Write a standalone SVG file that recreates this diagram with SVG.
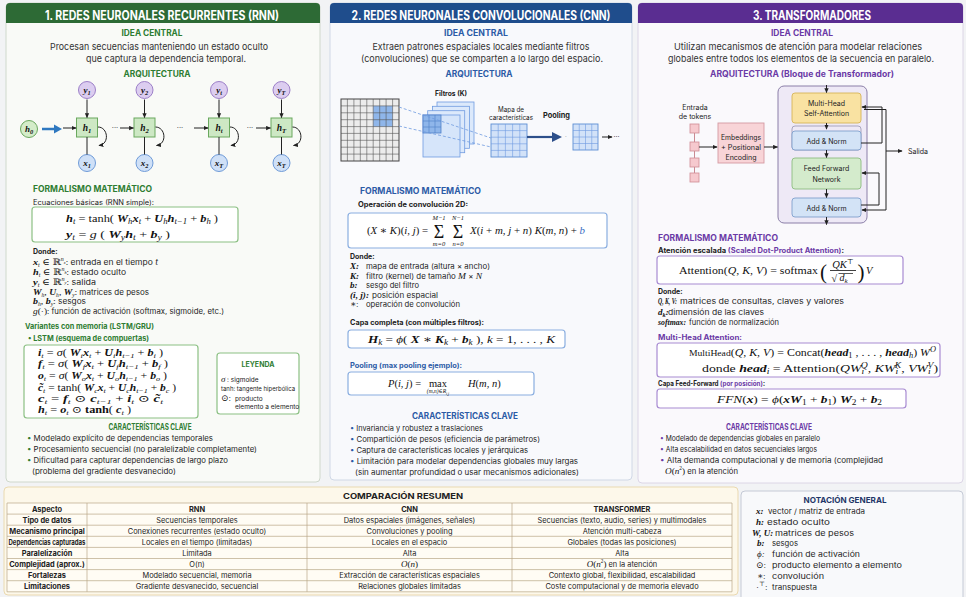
<svg xmlns="http://www.w3.org/2000/svg" width="966" height="597" viewBox="0 0 966 597">
<defs>
<style>
text{font-family:Inter,"Noto Sans","Liberation Sans",sans-serif;fill:#222}
.hd{font-size:12.5px;font-weight:700;fill:#fff;text-anchor:middle}
.sec{font-size:8.5px;font-weight:700}
.c{text-anchor:middle}
.g{fill:#2e7d32}.bl{fill:#2c5ba6}.pu{fill:#6b3aa6}.nv{fill:#1f3768}
.lead{font-size:9.5px;fill:#333;text-anchor:middle}
.t{font-size:7.5px}
.sm{font-size:7px}
.xs{font-size:6.5px}
.tb{font-size:7.5px;font-weight:700}
.m{font-family:"Liberation Serif","DejaVu Serif",serif;font-size:10.5px;fill:#111}
.mi{font-family:"Liberation Serif","DejaVu Serif",serif;font-size:9px;fill:#111}
.i{font-style:italic}
.bi{font-style:italic;font-weight:700}
.up{font-style:normal;font-weight:400}
.s{font-size:70%;baseline-shift:-2.3px}
.p{font-size:70%;baseline-shift:3.6px}
.ln{fill:none;stroke:#222;stroke-width:1}
.ar{fill:none;stroke:#222;stroke-width:1;marker-end:url(#ah)}
.gbox{fill:#fff;stroke:#8cc084;stroke-width:1.2}
.bbox{fill:#fff;stroke:#8aaee0;stroke-width:1.2}
.pbox{fill:#fff;stroke:#a88bd2;stroke-width:1.2}
.ycirc{fill:#dccdf0;stroke:#9d80c8;stroke-width:1}
.xcirc{fill:#cfe0f7;stroke:#6f9bd8;stroke-width:1}
.hbox{fill:#cde8c4;stroke:#6aa85e;stroke-width:1}
.tk{fill:#f6c9ce;stroke:#cf8c95;stroke-width:0.8}
.tbl{fill:none;stroke:#b9a887;stroke-width:0.7}
.f7{font-size:7px}
</style>
<marker id="ah" viewBox="0 0 8 8" refX="7" refY="4" markerWidth="5" markerHeight="5" orient="auto" markerUnits="userSpaceOnUse"><path d="M0,0.6L8,4L0,7.4z" fill="#222"/></marker>
</defs>

<rect width="966" height="597" fill="#f2f3f5"/>

<!-- ================= RNN column ================= -->
<g id="rnn-panel">
<rect x="6" y="3" width="314" height="479" rx="4" fill="#f9faf7" stroke="#cfd8cc"/>
<path d="M6,23V7Q6,3 10,3H316Q320,3 320,7V23Z" fill="#2d6a35"/>
<text class="hd" x="162" y="19.5" textLength="234" lengthAdjust="spacingAndGlyphs">1. REDES NEURONALES RECURRENTES (RNN)</text>
<text class="sec g c" x="152" y="36" textLength="61" lengthAdjust="spacingAndGlyphs">IDEA CENTRAL</text>
<text class="lead" x="159" y="49.5" textLength="218" lengthAdjust="spacingAndGlyphs">Procesan secuencias manteniendo un estado oculto</text>
<text class="lead" x="166" y="62" textLength="160" lengthAdjust="spacingAndGlyphs">que captura la dependencia temporal.</text>
<text class="sec g c" x="157" y="76.5" textLength="67" lengthAdjust="spacingAndGlyphs">ARQUITECTURA</text>
</g>

<g id="rnn-y1"><circle class="ycirc" cx="87" cy="90" r="8.5"/><text class="m bi c" x="87" y="93" style="font-size:9px">y<tspan class="s">1</tspan></text></g>
<g id="rnn-y2"><circle class="ycirc" cx="144.5" cy="90" r="8.5"/><text class="m bi c" x="144.5" y="93" style="font-size:9px">y<tspan class="s">2</tspan></text></g>
<g id="rnn-yt"><circle class="ycirc" cx="219" cy="90" r="8.5"/><text class="m bi c" x="219" y="93" style="font-size:9px">y<tspan class="s">t</tspan></text></g>
<g id="rnn-yT"><circle class="ycirc" cx="281.5" cy="90" r="8.5"/><text class="m bi c" x="281.5" y="93" style="font-size:9px">y<tspan class="s">T</tspan></text></g>

<g id="rnn-h0"><circle fill="#d4ecc9" stroke="#6aa85e" cx="29" cy="129" r="8.5"/><text class="m bi c" x="29" y="132" style="font-size:9px">h<tspan class="s">0</tspan></text></g>
<g id="rnn-h1"><rect class="hbox" x="76.5" y="118" width="21" height="19"/><text class="m bi c" x="87" y="130.5" style="font-size:9.5px">h<tspan class="s">1</tspan></text></g>
<g id="rnn-h2"><rect class="hbox" x="134" y="118" width="21" height="19"/><text class="m bi c" x="144.5" y="130.5" style="font-size:9.5px">h<tspan class="s">2</tspan></text></g>
<g id="rnn-ht"><rect class="hbox" x="208.5" y="118" width="21" height="19"/><text class="m bi c" x="219" y="130.5" style="font-size:9.5px">h<tspan class="s">t</tspan></text></g>
<g id="rnn-hT"><rect class="hbox" x="271" y="118" width="21" height="19"/><text class="m bi c" x="281.5" y="130.5" style="font-size:9.5px">h<tspan class="s">T</tspan></text></g>

<g id="rnn-x1"><circle class="xcirc" cx="87" cy="163" r="8.5"/><text class="m bi c" x="87" y="166" style="font-size:9px">x<tspan class="s">1</tspan></text></g>
<g id="rnn-x2"><circle class="xcirc" cx="144.5" cy="163" r="8.5"/><text class="m bi c" x="144.5" y="166" style="font-size:9px">x<tspan class="s">2</tspan></text></g>
<g id="rnn-xt"><circle class="xcirc" cx="219" cy="163" r="8.5"/><text class="m bi c" x="219" y="166" style="font-size:9px">x<tspan class="s">T</tspan></text></g>
<g id="rnn-xT"><circle class="xcirc" cx="281.5" cy="163" r="8.5"/><text class="m bi c" x="281.5" y="166" style="font-size:9px">x<tspan class="s">T</tspan></text></g>

<g id="rnn-connectors">
<path d="M42,129H55" stroke="#2f78c0" stroke-width="2.5" fill="none"/>
<path d="M54,124.5L62,129L54,133.5z" fill="#2f78c0"/>
<path class="ar" d="M63,128H76"/>
<path class="ar" d="M120,128H133.5"/>
<path class="ar" d="M194,128H208"/>
<path class="ar" d="M256,128H270.5"/>
<path class="ar" d="M87,99.5V117.5"/>
<path class="ar" d="M144.5,99.5V117.5"/>
<path class="ar" d="M219,99.5V117.5"/>
<path class="ar" d="M281.5,99.5V117.5"/>
<path class="ln" d="M87,137V154.5M144.5,137V154.5M219,137V154.5M281.5,137V154.5" stroke="#555"/>
<path class="ar" d="M98,127C108,127 110,144 99,145.5"/>
<path class="ar" d="M155.5,127C165.5,127 167.5,144 156.5,145.5"/>
<path class="ar" d="M230,127C240,127 242,144 231,145.5"/>
<path class="ar" d="M292.5,127C302.5,127 304.5,144 293.5,145.5"/>
<text class="t c" x="115" y="130" style="fill:#555">···</text>
<text class="t c" x="180" y="130" style="fill:#555">···</text>
<text class="t c" x="250" y="130" style="fill:#555">···</text>
</g>

<g id="rnn-math">
<text class="sec g" x="33" y="192" textLength="119" lengthAdjust="spacingAndGlyphs">FORMALISMO MATEMÁTICO</text>
<text class="sm" x="33" y="205" textLength="121" lengthAdjust="spacingAndGlyphs">Ecuaciones básicas (RNN simple):</text>
<rect class="gbox" x="32" y="207" width="206" height="35" rx="3"/>
<text class="m" x="66" y="221.5" textLength="152" lengthAdjust="spacingAndGlyphs"><tspan class="bi">h</tspan><tspan class="s i">t</tspan> = tanh( <tspan class="bi">W</tspan><tspan class="s i">h</tspan><tspan class="bi">x</tspan><tspan class="s i">t</tspan> + <tspan class="bi">U</tspan><tspan class="s i">h</tspan><tspan class="bi">h</tspan><tspan class="s i">t−1</tspan> + <tspan class="bi">b</tspan><tspan class="s i">h</tspan> )</text>
<text class="m" x="66" y="238" textLength="104" lengthAdjust="spacingAndGlyphs"><tspan class="bi">y</tspan><tspan class="s i">t</tspan> = <tspan class="i">g</tspan> ( <tspan class="bi">W</tspan><tspan class="s i">y</tspan><tspan class="bi">h</tspan><tspan class="s i">t</tspan> + <tspan class="bi">b</tspan><tspan class="s i">y</tspan> )</text>
<text class="tb f7" x="33" y="254">Donde:</text>
<text class="t" x="33" y="265" textLength="125" lengthAdjust="spacingAndGlyphs"><tspan class="mi bi">x</tspan><tspan class="mi i s">t</tspan><tspan class="mi"> ∈ ℝ</tspan><tspan class="mi i p">n<tspan class="s">x</tspan></tspan>: entrada en el tiempo <tspan class="i">t</tspan></text>
<text class="t" x="33" y="275" textLength="93" lengthAdjust="spacingAndGlyphs"><tspan class="mi bi">h</tspan><tspan class="mi i s">t</tspan><tspan class="mi"> ∈ ℝ</tspan><tspan class="mi i p">n<tspan class="s">h</tspan></tspan>: estado oculto</text>
<text class="t" x="33" y="285" textLength="63" lengthAdjust="spacingAndGlyphs"><tspan class="mi bi">y</tspan><tspan class="mi i s">t</tspan><tspan class="mi"> ∈ ℝ</tspan><tspan class="mi i p">n<tspan class="s">y</tspan></tspan>: salida</text>
<text class="t" x="33" y="294.5" textLength="116" lengthAdjust="spacingAndGlyphs"><tspan class="mi bi">W</tspan><tspan class="mi i s">h</tspan><tspan class="mi">, </tspan><tspan class="mi bi">U</tspan><tspan class="mi i s">h</tspan><tspan class="mi">, </tspan><tspan class="mi bi">W</tspan><tspan class="mi i s">y</tspan>: matrices de pesos</text>
<text class="t" x="33" y="304" textLength="53" lengthAdjust="spacingAndGlyphs"><tspan class="mi bi">b</tspan><tspan class="mi i s">h</tspan><tspan class="mi">, </tspan><tspan class="mi bi">b</tspan><tspan class="mi i s">y</tspan>: sesgos</text>
<text class="t" x="33" y="313.5" textLength="191" lengthAdjust="spacingAndGlyphs"><tspan class="mi i">g</tspan><tspan class="mi">(·)</tspan>: función de activación (softmax, sigmoide, etc.)</text>
<text class="tb g" x="25" y="329" textLength="129" lengthAdjust="spacingAndGlyphs">Variantes con memoria (LSTM/GRU)</text>
<text class="tb g" x="28" y="341" textLength="121" lengthAdjust="spacingAndGlyphs">• LSTM (esquema de compuertas)</text>
<rect class="gbox" x="24" y="345" width="174" height="73" rx="3"/>
<text class="m" x="38" y="355.5" style="font-size:10px" textLength="125" lengthAdjust="spacingAndGlyphs"><tspan class="bi">i</tspan><tspan class="s i">t</tspan> = <tspan class="i">σ</tspan>( <tspan class="bi">W</tspan><tspan class="s i">i</tspan><tspan class="bi">x</tspan><tspan class="s i">t</tspan> + <tspan class="bi">U</tspan><tspan class="s i">i</tspan><tspan class="bi">h</tspan><tspan class="s i">t−1</tspan> + <tspan class="bi">b</tspan><tspan class="s i">i</tspan> )</text>
<text class="m" x="38" y="367" style="font-size:10px" textLength="130" lengthAdjust="spacingAndGlyphs"><tspan class="bi">f</tspan><tspan class="s i">t</tspan> = <tspan class="i">σ</tspan>( <tspan class="bi">W</tspan><tspan class="s i">f</tspan><tspan class="bi">x</tspan><tspan class="s i">t</tspan> + <tspan class="bi">U</tspan><tspan class="s i">f</tspan><tspan class="bi">h</tspan><tspan class="s i">t−1</tspan> + <tspan class="bi">b</tspan><tspan class="s i">f</tspan> )</text>
<text class="m" x="38" y="379" style="font-size:10px" textLength="129" lengthAdjust="spacingAndGlyphs"><tspan class="bi">o</tspan><tspan class="s i">t</tspan> = <tspan class="i">σ</tspan>( <tspan class="bi">W</tspan><tspan class="s i">o</tspan><tspan class="bi">x</tspan><tspan class="s i">t</tspan> + <tspan class="bi">U</tspan><tspan class="s i">o</tspan><tspan class="bi">h</tspan><tspan class="s i">t−1</tspan> + <tspan class="bi">b</tspan><tspan class="s i">o</tspan> )</text>
<text class="m" x="38" y="390.5" style="font-size:10px" textLength="138" lengthAdjust="spacingAndGlyphs"><tspan class="bi">c̃</tspan><tspan class="s i">t</tspan> = tanh( <tspan class="bi">W</tspan><tspan class="s i">c</tspan><tspan class="bi">x</tspan><tspan class="s i">t</tspan> + <tspan class="bi">U</tspan><tspan class="s i">c</tspan><tspan class="bi">h</tspan><tspan class="s i">t−1</tspan> + <tspan class="bi">b</tspan><tspan class="s i">c</tspan> )</text>
<text class="m" x="38" y="401.5" style="font-size:10px" textLength="125" lengthAdjust="spacingAndGlyphs"><tspan class="bi">c</tspan><tspan class="s i">t</tspan> = <tspan class="bi">f</tspan><tspan class="s i">t</tspan> ⊙ <tspan class="bi">c</tspan><tspan class="s i">t−1</tspan> + <tspan class="bi">i</tspan><tspan class="s i">t</tspan> ⊙ <tspan class="bi">c̃</tspan><tspan class="s i">t</tspan></text>
<text class="m" x="38" y="412.5" style="font-size:10px" textLength="93" lengthAdjust="spacingAndGlyphs"><tspan class="bi">h</tspan><tspan class="s i">t</tspan> = <tspan class="bi">o</tspan><tspan class="s i">t</tspan> ⊙ <tspan font-weight="700">tanh</tspan>( <tspan class="bi">c</tspan><tspan class="s i">t</tspan> )</text>
</g>

<g id="rnn-legend">
<rect class="gbox" x="217" y="353" width="82" height="61" rx="3"/>
<text class="g c" x="258" y="367" font-size="7" font-weight="700">LEYENDA</text>
<text class="mi i" x="221" y="382">σ</text><text class="xs" x="227" y="381.5"> :  sigmoide</text>
<text class="xs" x="221" y="391" textLength="74" lengthAdjust="spacingAndGlyphs">tanh: tangente hiperbólica</text>
<text class="mi" x="221" y="401">⊙:</text><text class="xs" x="235" y="400.5">producto</text>
<text class="xs" x="235" y="409">elemento a elemento</text>
</g>

<g id="rnn-features">
<text class="sec g c" x="150" y="430" textLength="83" lengthAdjust="spacingAndGlyphs">CARACTERÍSTICAS CLAVE</text>
<text class="t" x="27" y="441" textLength="186" lengthAdjust="spacingAndGlyphs"><tspan class="g">•</tspan> Modelado explícito de dependencias temporales</text>
<text class="t" x="27" y="452" textLength="230" lengthAdjust="spacingAndGlyphs"><tspan class="g">•</tspan> Procesamiento secuencial (no paralelizable completamente)</text>
<text class="t" x="27" y="463" textLength="201" lengthAdjust="spacingAndGlyphs"><tspan class="g">•</tspan> Dificultad para capturar dependencias de largo plazo</text>
<text class="t" x="32" y="474" textLength="144" lengthAdjust="spacingAndGlyphs">(problema del gradiente desvanecido)</text>
</g>

<!-- ================= CNN column ================= -->
<g id="cnn-panel">
<rect x="330" y="3" width="302" height="477" rx="4" fill="#f8f9fc" stroke="#d0d8e6"/>
<path d="M330,23V7Q330,3 334,3H628Q632,3 632,7V23Z" fill="#1f4d8c"/>
<text class="hd" x="481" y="19.5" textLength="259" lengthAdjust="spacingAndGlyphs">2. REDES NEURONALES CONVOLUCIONALES (CNN)</text>
<text class="sec bl c" x="476" y="36" textLength="64" lengthAdjust="spacingAndGlyphs">IDEA CENTRAL</text>
<text class="lead" x="481" y="49.5" textLength="217" lengthAdjust="spacingAndGlyphs">Extraen patrones espaciales locales mediante filtros</text>
<text class="lead" x="482" y="62" textLength="242" lengthAdjust="spacingAndGlyphs">(convoluciones) que se comparten a lo largo del espacio.</text>
<text class="sec bl c" x="479" y="76.5" textLength="67" lengthAdjust="spacingAndGlyphs">ARQUITECTURA</text>
</g>

<g id="cnn-input">
<rect x="341" y="99" width="58" height="62" fill="#ececec"/>
<rect x="373.2" y="105.9" width="19.4" height="20.7" fill="#8fb6ea"/>
<path d="M347.4,99V161M353.9,99V161M360.3,99V161M366.8,99V161M373.2,99V161M379.7,99V161M386.1,99V161M392.6,99V161M341,105.9H399M341,112.8H399M341,119.7H399M341,126.6H399M341,133.4H399M341,140.3H399M341,147.2H399M341,154.1H399" stroke="#555" stroke-width="0.6" fill="none"/>
<rect x="341" y="99" width="58" height="62" fill="none" stroke="#444" stroke-width="1"/>
</g>

<g id="cnn-filters">
<text class="c" x="451" y="96" font-size="7" font-weight="700" textLength="32" lengthAdjust="spacingAndGlyphs">Filtros (K)</text>
<rect x="437" y="102" width="37" height="42" fill="#dce9fb" stroke="#6f9be0" stroke-width="0.8"/>
<rect x="432.4" y="106.3" width="37" height="42" fill="#dce9fb" stroke="#6f9be0" stroke-width="0.8"/>
<rect x="427.7" y="110.7" width="37" height="42" fill="#dce9fb" stroke="#6f9be0" stroke-width="0.8"/>
<rect x="423" y="115" width="37" height="42" fill="#d6e5fa" stroke="#6f9be0" stroke-width="0.8"/>
<rect x="423" y="115" width="18" height="18" fill="#8fb6ea"/>
<path d="M429,115V133M435,115V133M423,121H441M423,127H441" stroke="#4f7fc8" stroke-width="0.6" fill="none"/>
<rect x="423" y="115" width="18" height="18" fill="none" stroke="#4f7fc8" stroke-width="0.8"/>
</g>

<g id="cnn-featuremap">
<text class="c" x="511" y="112" font-size="7" textLength="26" lengthAdjust="spacingAndGlyphs">Mapa de</text>
<text class="c" x="511" y="119.5" font-size="7" textLength="44" lengthAdjust="spacingAndGlyphs">características</text>
<rect x="491" y="124" width="36" height="33" fill="#d2e2f8" stroke="#5e8fd4" stroke-width="0.9"/>
<path d="M498.2,124V157M505.4,124V157M512.6,124V157M519.8,124V157M491,130.6H527M491,137.2H527M491,143.8H527M491,150.4H527" stroke="#6f9be0" stroke-width="0.6" fill="none"/>
</g>

<g id="cnn-pooled">
<text x="543" y="118" font-size="7.5" font-weight="700" textLength="27" lengthAdjust="spacingAndGlyphs">Pooling</text>
<rect x="573" y="124" width="25" height="26" fill="#d2e2f8" stroke="#5e8fd4" stroke-width="0.9"/>
<path d="M579.25,124V150M585.5,124V150M591.75,124V150M573,130.5H598M573,137H598M573,143.5H598" stroke="#6f9be0" stroke-width="0.6" fill="none"/>
</g>

<g id="cnn-connectors">
<path d="M399,107L491,138M399,126L491,147" stroke="#6f9be0" stroke-width="0.8" stroke-dasharray="3 2" fill="none"/>
<path d="M527,137H553" stroke="#2d4f8a" stroke-width="2.2" fill="none"/>
<path d="M552,132L562,137L552,142z" fill="#2d4f8a"/>
<text x="565" y="138.5" font-size="6" style="fill:#777">·</text>
<path class="ar" d="M602,137H612"/>
<text x="613.5" y="139" font-size="7" style="fill:#444">···</text>
</g>

<g id="cnn-math">
<text class="sec bl" x="360" y="194" textLength="121" lengthAdjust="spacingAndGlyphs">FORMALISMO MATEMÁTICO</text>
<text class="tb f7" x="358" y="207" textLength="110" lengthAdjust="spacingAndGlyphs">Operación de convolución 2D:</text>
<rect class="bbox" x="348" y="213" width="259" height="35" rx="3"/>
<text class="m" x="367" y="233.5" textLength="61" lengthAdjust="spacingAndGlyphs">(<tspan class="i">X</tspan> ∗ <tspan class="i">K</tspan>)(<tspan class="i">i</tspan>, <tspan class="i">j</tspan>) =</text>
<text class="m c" x="439" y="237.5" style="font-size:18px">Σ</text>
<text class="m c" x="458" y="237.5" style="font-size:18px">Σ</text>
<text class="m i c" x="439" y="219.5" style="font-size:6.5px">M−1</text>
<text class="m i c" x="458" y="219.5" style="font-size:6.5px">N−1</text>
<text class="m i c" x="439" y="246" style="font-size:6.5px">m=0</text>
<text class="m i c" x="458" y="246" style="font-size:6.5px">n=0</text>
<text class="m" x="470" y="233.5" textLength="115" lengthAdjust="spacingAndGlyphs"><tspan class="i">X</tspan>(<tspan class="i">i</tspan> + <tspan class="i">m</tspan>, <tspan class="i">j</tspan> + <tspan class="i">n</tspan>)  <tspan class="i">K</tspan>(<tspan class="i">m</tspan>, <tspan class="i">n</tspan>) + <tspan class="i" style="fill:#3a6fc4">b</tspan></text>
<text class="tb f7" x="350" y="259">Donde:</text>
<text class="mi bi" x="350" y="269">X:</text><text class="t" x="366" y="269" textLength="124" lengthAdjust="spacingAndGlyphs">mapa de entrada (altura × ancho)</text>
<text class="mi bi" x="350" y="279">K:</text><text class="t" x="366" y="279" textLength="116" lengthAdjust="spacingAndGlyphs">filtro (kernel) de tamaño <tspan class="mi i">M</tspan> × <tspan class="mi i">N</tspan></text>
<text class="mi bi" x="350" y="288">b:</text><text class="t" x="366" y="288" textLength="53" lengthAdjust="spacingAndGlyphs">sesgo del filtro</text>
<text class="mi bi" x="350" y="297.5" textLength="19" lengthAdjust="spacingAndGlyphs">(i, j):</text><text class="t" x="372" y="297.5" textLength="66" lengthAdjust="spacingAndGlyphs">posición espacial</text>
<text class="mi" x="350" y="307">∗:</text><text class="t" x="366" y="307" textLength="94" lengthAdjust="spacingAndGlyphs">operación de convolución</text>
<text class="tb f7" x="350" y="325" textLength="134" lengthAdjust="spacingAndGlyphs">Capa completa (con múltiples filtros):</text>
<rect class="bbox" x="348" y="330" width="217" height="18" rx="3"/>
<text class="m" x="368" y="342.5" textLength="187" lengthAdjust="spacingAndGlyphs"><tspan class="bi">H</tspan><tspan class="s i">k</tspan> = <tspan class="i">ϕ</tspan>( <tspan class="bi">X</tspan> ∗ <tspan class="bi">K</tspan><tspan class="s i">k</tspan> + <tspan class="bi">b</tspan><tspan class="s i">k</tspan> ),      <tspan class="i">k</tspan> = 1, . . . , <tspan class="i">K</tspan></text>
<text class="tb bl f7" x="350" y="368" textLength="112" lengthAdjust="spacingAndGlyphs">Pooling (max pooling ejemplo):</text>
<rect class="bbox" x="348" y="372" width="186" height="23" rx="3"/>
<text class="m" x="388" y="386.5"><tspan class="i">P</tspan>(<tspan class="i">i</tspan>, <tspan class="i">j</tspan>) =</text>
<text class="m c" x="438" y="386.5">max</text>
<text class="m i c" x="438" y="393" style="font-size:5.5px">(m,n)∈R<tspan class="s">i,j</tspan></text>
<text class="m" x="468" y="386.5"><tspan class="i">H</tspan>(<tspan class="i">m</tspan>, <tspan class="i">n</tspan>)</text>
</g>

<g id="cnn-features">
<text class="sec bl c" x="465" y="419" textLength="106" lengthAdjust="spacingAndGlyphs">CARACTERÍSTICAS CLAVE</text>
<text class="t" x="350" y="431" textLength="133" lengthAdjust="spacingAndGlyphs"><tspan class="bl">•</tspan> Invariancia y robustez a traslaciones</text>
<text class="t" x="350" y="442" textLength="190" lengthAdjust="spacingAndGlyphs"><tspan class="bl">•</tspan> Compartición de pesos (eficiencia de parámetros)</text>
<text class="t" x="350" y="453" textLength="178" lengthAdjust="spacingAndGlyphs"><tspan class="bl">•</tspan> Captura de características locales y jerárquicas</text>
<text class="t" x="350" y="464" textLength="228" lengthAdjust="spacingAndGlyphs"><tspan class="bl">•</tspan> Limitación para modelar dependencias globales muy largas</text>
<text class="t" x="355" y="475" textLength="224" lengthAdjust="spacingAndGlyphs">(sin aumentar profundidad o usar mecanismos adicionales)</text>
</g>

<!-- ================= Transformer column ================= -->
<g id="tr-panel">
<rect x="638" y="3" width="325" height="480" rx="4" fill="#faf9fc" stroke="#dcd6e6"/>
<path d="M638,23V7Q638,3 642,3H959Q963,3 963,7V23Z" fill="#5a2d91"/>
<text class="hd" x="812" y="19.5" textLength="118" lengthAdjust="spacingAndGlyphs">3. TRANSFORMADORES</text>
<text class="sec pu c" x="802" y="36" textLength="62" lengthAdjust="spacingAndGlyphs">IDEA CENTRAL</text>
<text class="lead" x="798" y="49.5" textLength="248" lengthAdjust="spacingAndGlyphs">Utilizan mecanismos de atención para modelar relaciones</text>
<text class="lead" x="801" y="62" textLength="266" lengthAdjust="spacingAndGlyphs">globales entre todos los elementos de la secuencia en paralelo.</text>
<text class="sec pu c" x="802" y="77" textLength="184" lengthAdjust="spacingAndGlyphs">ARQUITECTURA (Bloque de Transformador)</text>
</g>

<g id="tr-tokens">
<text class="c" x="695" y="110" font-size="7">Entrada</text>
<text class="c" x="695" y="119" font-size="7">de tokens</text>
<path d="M694.5,128V178" stroke="#c98a92" stroke-width="1" fill="none"/>
<rect class="tk" x="690" y="124" width="9" height="9"/>
<rect class="tk" x="690" y="142" width="9" height="9"/>
<rect class="tk" x="690" y="158" width="9" height="9"/>
<rect class="tk" x="690" y="173" width="9" height="9"/>
</g>

<g id="tr-embed">
<rect x="718" y="123" width="46" height="40" fill="#f8d4d7" stroke="#d49aa2" stroke-width="0.9"/>
<text class="c" x="741" y="139.5" font-size="7" textLength="40" lengthAdjust="spacingAndGlyphs">Embeddings</text>
<text class="c" x="741" y="150" font-size="7" textLength="40" lengthAdjust="spacingAndGlyphs">+ Positional</text>
<text class="c" x="741" y="160" font-size="7">Encoding</text>
</g>

<g id="tr-block"><rect x="778" y="86" width="89" height="137" rx="6" fill="#eee9f6" stroke="#8b7fa8" stroke-width="1"/></g>
<g id="tr-mhsa">
<rect x="792" y="93" width="69" height="30" rx="3" fill="#f9e2a2" stroke="#d6b458" stroke-width="0.9"/>
<text class="c" x="826.5" y="105.5" font-size="7">Multi-Head</text>
<text class="c" x="826.5" y="116" font-size="7">Self-Attention</text>
</g>
<g id="tr-addnorm1">
<rect x="792" y="126" width="69" height="24" rx="3" fill="none" stroke="#8b8aa8" stroke-width="0.7"/>
<rect x="792" y="131" width="69" height="19" rx="3" fill="#d3e3f6" stroke="#7f9fcc" stroke-width="0.9"/>
<text class="c" x="826.5" y="143.5" font-size="7">Add &amp; Norm</text>
</g>
<g id="tr-ffn">
<rect x="792" y="158" width="69" height="31" rx="3" fill="#d4ebcc" stroke="#8cbc80" stroke-width="0.9"/>
<text class="c" x="826.5" y="171" font-size="7">Feed Forward</text>
<text class="c" x="826.5" y="181.5" font-size="7">Network</text>
</g>
<g id="tr-addnorm2">
<rect x="792" y="198" width="69" height="19" rx="3" fill="#d3e3f6" stroke="#7f9fcc" stroke-width="0.9"/>
<text class="c" x="826.5" y="210.5" font-size="7">Add &amp; Norm</text>
</g>
<g id="tr-out"><text x="908" y="154" font-size="7">Salida</text></g>

<g id="tr-connectors">
<path class="ar" d="M699,147H717"/>
<path class="ar" d="M764,147H777.5"/>
<path class="ar" d="M826.5,85V92.5"/>
<path class="ar" d="M826.5,123V129"/>
<path class="ar" d="M826.5,150V157.5"/>
<path class="ar" d="M826.5,189V197.5"/>
<path class="ar" d="M826.5,217V224.5"/>
<path class="ar" d="M861,143H882V107H862"/>
<path class="ar" d="M864,109.5H886V210H862"/>
<path class="ar" d="M861,205H879V173H862"/>
<path class="ar" d="M886,151H902"/>
</g>

<g id="tr-math">
<text class="sec pu" x="658" y="241" textLength="120" lengthAdjust="spacingAndGlyphs">FORMALISMO MATEMÁTICO</text>
<text class="tb f7" x="658" y="253" textLength="186" lengthAdjust="spacingAndGlyphs">Atención escalada <tspan class="pu">(Scaled Dot-Product Attention)</tspan>:</text>
<rect class="pbox" x="657" y="256" width="246" height="28" rx="3"/>
<text class="m" x="679" y="274" textLength="139" lengthAdjust="spacingAndGlyphs">Attention(<tspan class="i">Q</tspan>, <tspan class="i">K</tspan>, <tspan class="i">V</tspan>) = softmax</text>
<text class="m" x="820" y="279" style="font-size:21px">(</text>
<text class="m i c" x="843" y="267.5">QK<tspan class="p up">⊤</tspan></text>
<path d="M830,270.5H856" stroke="#111" stroke-width="0.8"/>
<text class="m" x="831.5" y="281.5" style="font-size:10px">√</text>
<path d="M838.5,273.5H853" stroke="#111" stroke-width="0.7"/>
<text class="m i" x="839.5" y="281" style="font-size:10px">d<tspan class="s">k</tspan></text>
<text class="m" x="857.5" y="279" style="font-size:21px">)</text>
<text class="m i" x="866" y="274">V</text>
<text class="tb f7" x="658" y="294">Donde:</text>
<text class="mi bi" x="658" y="304" textLength="19" lengthAdjust="spacingAndGlyphs">Q, K, V:</text><text class="t" x="680" y="304" textLength="164" lengthAdjust="spacingAndGlyphs">matrices de consultas, claves y valores</text>
<text class="mi bi" x="658" y="315">d<tspan class="s">k</tspan>:</text><text class="t" x="668" y="315" textLength="96" lengthAdjust="spacingAndGlyphs">dimensión de las claves</text>
<text class="mi bi" x="658" y="325" textLength="28" lengthAdjust="spacingAndGlyphs">softmax:</text><text class="t" x="689" y="325" textLength="90" lengthAdjust="spacingAndGlyphs">función de normalización</text>
<text class="tb pu f7" x="658" y="340" textLength="84" lengthAdjust="spacingAndGlyphs">Multi-Head Attention:</text>
<rect class="pbox" x="657" y="343" width="283" height="34" rx="3"/>
<text class="m" x="689" y="356" textLength="247" lengthAdjust="spacingAndGlyphs"><tspan style="font-size:8.5px">MultiHead</tspan>(<tspan class="i">Q</tspan>, <tspan class="i">K</tspan>, <tspan class="i">V</tspan>) = Concat(<tspan class="bi">head</tspan><tspan class="s">1</tspan> , . . . , <tspan class="bi">head</tspan><tspan class="s i">h</tspan>) <tspan class="i">W</tspan><tspan class="p i">O</tspan></text>
<text class="m" x="702" y="372" textLength="236" lengthAdjust="spacingAndGlyphs">donde <tspan class="bi">head</tspan><tspan class="s i">i</tspan> = Attention(<tspan class="i">QW</tspan><tspan class="s i">i</tspan><tspan class="p i" dx="-2.5">Q</tspan>, <tspan class="i">KW</tspan><tspan class="s i">i</tspan><tspan class="p i" dx="-2.5">K</tspan>, <tspan class="i">VW</tspan><tspan class="s i">i</tspan><tspan class="p i" dx="-2.5">V</tspan>)</text>
<text class="tb f7" x="658" y="386" textLength="107" lengthAdjust="spacingAndGlyphs">Capa Feed-Forward <tspan class="pu">(por posición)</tspan>:</text>
<rect class="pbox" x="657" y="389" width="249" height="19" rx="3"/>
<text class="m" x="717" y="402.5" textLength="165" lengthAdjust="spacingAndGlyphs"><tspan class="i">FFN</tspan>(<tspan class="bi">x</tspan>) = <tspan class="i">ϕ</tspan>(<tspan class="bi">x</tspan><tspan class="bi">W</tspan><tspan class="s">1</tspan> + <tspan class="bi">b</tspan><tspan class="s">1</tspan>) <tspan class="bi">W</tspan><tspan class="s">2</tspan> + <tspan class="bi">b</tspan><tspan class="s">2</tspan></text>
</g>

<g id="tr-features">
<text class="sec pu c" x="769" y="430" textLength="86" lengthAdjust="spacingAndGlyphs">CARACTERÍSTICAS CLAVE</text>
<text class="t" x="660" y="440.5" textLength="160" lengthAdjust="spacingAndGlyphs"><tspan class="pu">•</tspan> Modelado de dependencias globales en paralelo</text>
<text class="t" x="660" y="451.5" textLength="157" lengthAdjust="spacingAndGlyphs"><tspan class="pu">•</tspan> Alta escalabilidad en datos secuenciales largos</text>
<text class="t" x="660" y="462.5" textLength="223" lengthAdjust="spacingAndGlyphs"><tspan class="pu">•</tspan> Alta demanda computacional y de memoria (complejidad</text>
<text class="t" x="665" y="474" textLength="73" lengthAdjust="spacingAndGlyphs"><tspan class="mi i">O</tspan><tspan class="mi">(</tspan><tspan class="mi i">n</tspan><tspan class="mi p">2</tspan><tspan class="mi">)</tspan> en la atención</text>
</g>

<!-- ================= Comparison table ================= -->
<g id="summary-table">
<rect x="4" y="487" width="734" height="108" rx="4" fill="#fdf8ea" stroke="#ead9b0"/>
<text class="c" x="403" y="498.5" font-size="8" font-weight="700" textLength="120" lengthAdjust="spacingAndGlyphs">COMPARACIÓN RESUMEN</text>
<rect x="7" y="503" width="725" height="88.8" fill="#fffcf4"/>
<path class="tbl" d="M7,503H732M7,514.1H732M7,525.2H732M7,536.3H732M7,547.4H732M7,558.5H732M7,569.6H732M7,580.7H732M7,591.8H732M7,503V591.8M87,503V591.8M307,503V591.8M512,503V591.8M732,503V591.8"/>
<g font-size="7.4" text-anchor="middle">
<text x="47" y="511.5" font-weight="700">Aspecto</text>
<text x="197" y="511.5" font-weight="700">RNN</text>
<text x="409.5" y="511.5" font-weight="700">CNN</text>
<text x="622" y="511.5" font-weight="700">TRANSFORMER</text>

<text x="47" y="522.6" font-weight="700">Tipo de datos</text>
<text x="197" y="522.6">Secuencias temporales</text>
<text x="409.5" y="522.6">Datos espaciales (imágenes, señales)</text>
<text x="622" y="522.6">Secuencias (texto, audio, series) y multimodales</text>

<text x="47" y="533.7" font-weight="700">Mecanismo principal</text>
<text x="197" y="533.7">Conexiones recurrentes (estado oculto)</text>
<text x="409.5" y="533.7">Convoluciones y pooling</text>
<text x="622" y="533.7">Atención multi-cabeza</text>

<text x="47" y="544.8" font-weight="700" textLength="77" lengthAdjust="spacingAndGlyphs">Dependencias capturadas</text>
<text x="197" y="544.8">Locales en el tiempo (limitadas)</text>
<text x="409.5" y="544.8">Locales en el espacio</text>
<text x="622" y="544.8">Globales (todas las posiciones)</text>

<text x="47" y="555.9" font-weight="700">Paralelización</text>
<text x="197" y="555.9">Limitada</text>
<text x="409.5" y="555.9">Alta</text>
<text x="622" y="555.9">Alta</text>

<text x="47" y="567" font-weight="700">Complejidad (aprox.)</text>
<text x="197" y="567">O(n)</text>
<text x="409.5" y="567" class="mi"><tspan class="i">O</tspan>(<tspan class="i">n</tspan>)</text>
<text x="622" y="567"><tspan class="mi i">O</tspan><tspan class="mi">(</tspan><tspan class="mi i">n</tspan><tspan class="mi p">2</tspan><tspan class="mi">)</tspan> en la atención</text>

<text x="47" y="578.1" font-weight="700">Fortalezas</text>
<text x="197" y="578.1">Modelado secuencial, memoria</text>
<text x="409.5" y="578.1">Extracción de características espaciales</text>
<text x="622" y="578.1">Contexto global, flexibilidad, escalabilidad</text>

<text x="47" y="589.2" font-weight="700">Limitaciones</text>
<text x="197" y="589.2">Gradiente desvanecido, secuencial</text>
<text x="409.5" y="589.2">Relaciones globales limitadas</text>
<text x="622" y="589.2">Coste computacional y de memoria elevado</text>
</g>
</g>

<!-- ================= Notation ================= -->
<g id="notation">
<rect x="741" y="491" width="222" height="110" rx="4" fill="#f8f9fb" stroke="#c5cad6"/>
<text class="nv c" x="845" y="503" font-size="8" font-weight="700" textLength="83" lengthAdjust="spacingAndGlyphs">NOTACIÓN GENERAL</text>
<text class="mi bi" x="756" y="513.5">x:</text><text class="t" x="768" y="513.5" textLength="97" lengthAdjust="spacingAndGlyphs">vector / matriz de entrada</text>
<text class="mi bi" x="756" y="524.5">h:</text><text class="t" x="767" y="524.5" textLength="63" lengthAdjust="spacingAndGlyphs">estado oculto</text>
<text class="mi bi" x="752" y="535.5">W, U:</text><text class="t" x="775" y="535.5" textLength="79" lengthAdjust="spacingAndGlyphs">matrices de pesos</text>
<text class="mi bi" x="757" y="546">b:</text><text class="t" x="772" y="546" textLength="26" lengthAdjust="spacingAndGlyphs">sesgos</text>
<text class="mi i" x="757" y="557">ϕ:</text><text class="t" x="772" y="557" textLength="88" lengthAdjust="spacingAndGlyphs">función de activación</text>
<text class="mi" x="756" y="568">⊙:</text><text class="t" x="772" y="568" textLength="130" lengthAdjust="spacingAndGlyphs">producto elemento a elemento</text>
<text class="mi" x="757" y="579">∗:</text><text class="t" x="772" y="579" textLength="52" lengthAdjust="spacingAndGlyphs">convolución</text>
<text class="mi" x="756" y="590">·<tspan class="p">⊤</tspan>:</text><text class="t" x="772" y="590" textLength="45" lengthAdjust="spacingAndGlyphs">transpuesta</text>
</g>
</svg>
